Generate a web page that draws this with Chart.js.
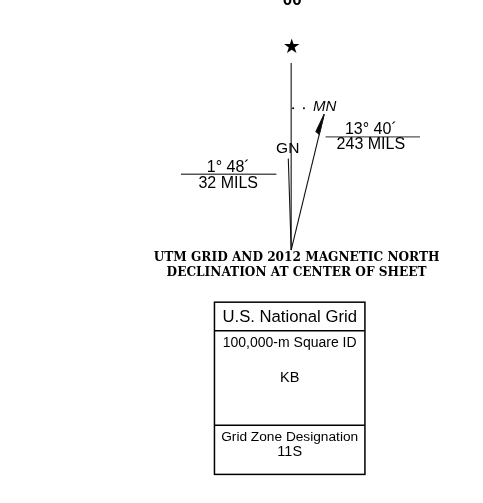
<!DOCTYPE html>
<html>
<head>
<meta charset="utf-8">
<script src="https://cdn.jsdelivr.net/npm/chart.js@4"></script>
<style>
  html, body { margin: 0; padding: 0; background: #fff; }
  canvas { display: block; }
</style>
</head>
<body>
<canvas id="declChart" width="483" height="503"></canvas>
<script>
// declination data (degrees, east positive)
const northLabels = ['GN', 'MN'];
const declinations = [-1.8, 13 + 40 / 60];
const armLengths = [93, 142];
const trueNorthLength = 190;
const angleTexts = [['1° 48´', '32 MILS'], ['13° 40´', '243 MILS']];
const titleLines = ['UTM GRID AND 2012 MAGNETIC NORTH', 'DECLINATION AT CENTER OF SHEET'];
const gridRows = ['U.S. National Grid', '100,000-m Square ID', 'KB', 'Grid Zone Designation', '11S'];

function polar(deg, len) {
  const r = deg * Math.PI / 180;
  return { x: Math.sin(r) * len, y: Math.cos(r) * len };
}

const gnTop = polar(declinations[0], armLengths[0]);
const mnTop = polar(declinations[1], armLengths[1]);
const mnBase = polar(declinations[1], armLengths[1] - 21);
const barb = {
  x: mnBase.x - 3.5 * Math.cos(declinations[1] * Math.PI / 180),
  y: mnBase.y + 3.5 * Math.sin(declinations[1] * Math.PI / 180) + 2
};

const lineStyle = { showLine: true, pointRadius: 0, borderColor: '#111', borderWidth: 1.1 };

// text and box drawing on top of the scales
const labelPlugin = {
  id: 'labels',
  afterDatasetsDraw(chart) {
    const { ctx, scales: { x, y } } = chart;
    const px = v => x.getPixelForValue(v);
    const py = v => y.getPixelForValue(v);
    ctx.save();
    ctx.fillStyle = '#000';
    ctx.textAlign = 'center';

    ctx.font = 'bold 17px "Liberation Sans"';
    ctx.textBaseline = 'alphabetic';
    ctx.fillText('00', px(1), py(249));
    ctx.textBaseline = 'middle';

    ctx.font = '20px "DejaVu Sans"';
    ctx.fillText('★', px(0.5), py(205));

    ctx.font = '15.5px "Liberation Sans"';
    ctx.fillText(northLabels[0], px(-3.5), py(103));
    ctx.font = 'italic 15px "Liberation Sans"';
    ctx.fillText(northLabels[1], px(34), py(146));

    ctx.font = '16px "Liberation Sans"';
    ctx.fillText(angleTexts[0][0], px(-64), py(84));
    ctx.fillText(angleTexts[0][1], px(-64), py(68));
    ctx.fillText(angleTexts[1][0], px(81), py(122.5));
    ctx.fillText(angleTexts[1][1], px(81), py(107));

    ctx.font = 'bold 13.5px "DejaVu Serif Condensed", "DejaVu Serif"';
    ctx.fillText(titleLines[0], px(5.5), py(-8));
    ctx.fillText(titleLines[1], px(5.5), py(-23));

    // national grid box
    ctx.strokeStyle = '#000';
    ctx.lineWidth = 1.5;
    const bx0 = px(-78), bx1 = px(75);
    ctx.strokeRect(bx0, py(-53), bx1 - bx0, py(-228) - py(-53));
    ctx.beginPath();
    ctx.moveTo(bx0, py(-82)); ctx.lineTo(bx1, py(-82));
    ctx.moveTo(bx0, py(-178)); ctx.lineTo(bx1, py(-178));
    ctx.stroke();

    ctx.font = '16.7px "Liberation Sans"';
    ctx.fillText(gridRows[0], px(-1.5), py(-68));
    ctx.font = '14px "Liberation Sans"';
    ctx.fillText(gridRows[1], px(-1.5), py(-95));
    ctx.font = '13.7px "Liberation Sans"';
    ctx.fillText(gridRows[3], px(-1.5), py(-190));
    ctx.font = '14.5px "Liberation Sans Narrow", "Liberation Sans"';
    ctx.fillText(gridRows[2], px(-1.5), py(-130));
    ctx.fillText(gridRows[4], px(-1.5), py(-205));
    ctx.restore();
  }
};

new Chart(document.getElementById('declChart'), {
  type: 'scatter',
  data: {
    datasets: [
      { ...lineStyle, data: [{ x: 0, y: 0 }, { x: 0, y: trueNorthLength }] },
      { ...lineStyle, data: [{ x: 0, y: 0 }, gnTop] },
      { ...lineStyle, data: [{ x: 0, y: 0 }, mnTop] },
      { ...lineStyle, data: [mnTop, barb, mnBase, mnTop], fill: 'shape', backgroundColor: '#000', tension: 0 },
      { ...lineStyle, borderColor: '#555', borderWidth: 1.4, data: [{ x: -112, y: 77 }, { x: -15, y: 77 }] },
      { ...lineStyle, borderColor: '#555', borderWidth: 1.4, data: [{ x: 35, y: 115 }, { x: 131, y: 115 }] },
      { data: [{ x: 2, y: 144 }, { x: 13, y: 144 }], pointRadius: 1, backgroundColor: '#000', borderWidth: 0 }
    ]
  },
  options: {
    responsive: false,
    animation: false,
    layout: { padding: 0 },
    plugins: { legend: { display: false }, tooltip: { enabled: false } },
    scales: {
      x: { type: 'linear', min: -292, max: 191, display: false },
      y: { type: 'linear', min: -253, max: 250, display: false }
    }
  },
  plugins: [labelPlugin]
});
</script>
</body>
</html>
